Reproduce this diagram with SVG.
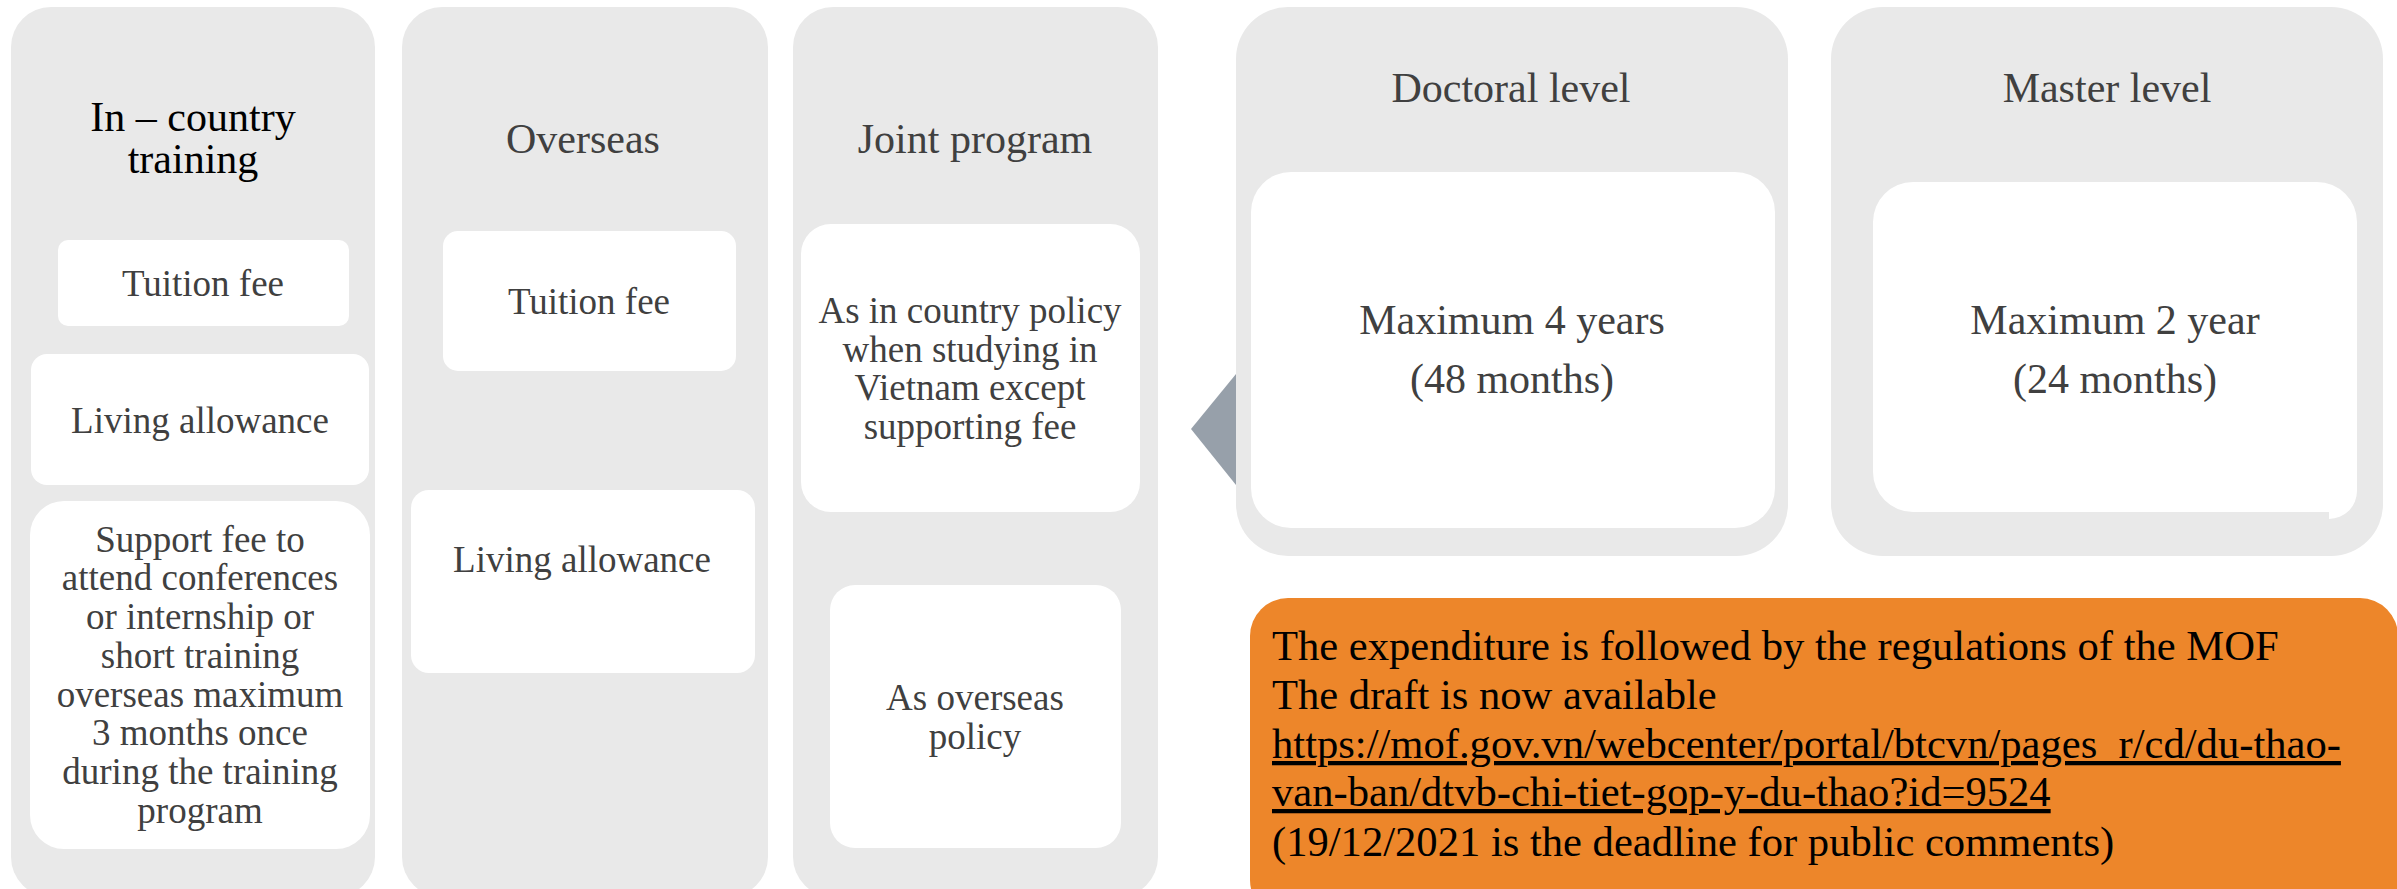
<svg xmlns="http://www.w3.org/2000/svg" width="2397" height="889" viewBox="0 0 2397 889">
<style>
.panel{fill:#E9E9E9}
.box{fill:#FFFFFF}
.t{font-family:"Liberation Serif","Times New Roman",serif;text-anchor:middle;fill:#404040}
.h{font-size:42px}
.s{font-size:37px}
.note{font-family:"Liberation Serif","Times New Roman",serif;font-size:42.6px;fill:#000000}
</style>
<rect width="2397" height="889" fill="#FFFFFF"/>
<g id="in-country">
<rect class="panel" x="11" y="7" width="364" height="890" rx="40"/>
<text class="t h" x="193" y="131" style="fill:#000000">In – country</text>
<text class="t h" x="193" y="173" style="fill:#000000">training</text>
<g id="ic-tuition"><rect class="box" x="58" y="240" width="291" height="86" rx="10"/>
<text class="t s" x="203" y="296">Tuition fee</text></g>
<g id="ic-living"><rect class="box" x="31" y="354" width="338" height="131" rx="16"/>
<text class="t s" x="200" y="433">Living allowance</text></g>
<g id="ic-support"><rect class="box" x="30" y="501" width="340" height="348" rx="34"/>
<text class="t s" x="200" y="552">Support fee to</text>
<text class="t s" x="200" y="590">attend conferences</text>
<text class="t s" x="200" y="629">or internship or</text>
<text class="t s" x="200" y="668">short training</text>
<text class="t s" x="200" y="707">overseas maximum</text>
<text class="t s" x="200" y="745">3 months once</text>
<text class="t s" x="200" y="784">during the training</text>
<text class="t s" x="200" y="823">program</text></g>
</g>
<g id="overseas">
<rect class="panel" x="402" y="7" width="366" height="890" rx="40"/>
<text class="t h" x="583" y="153">Overseas</text>
<g id="os-tuition"><rect class="box" x="443" y="231" width="293" height="140" rx="15"/>
<text class="t s" x="589" y="314">Tuition fee</text></g>
<g id="os-living"><rect class="box" x="411" y="490" width="344" height="183" rx="18"/>
<text class="t s" x="582" y="572">Living allowance</text></g>
</g>
<g id="joint">
<rect class="panel" x="793" y="7" width="365" height="890" rx="40"/>
<text class="t h" x="975" y="153">Joint program</text>
<g id="jp-incountry"><rect class="box" x="801" y="224" width="339" height="288" rx="30"/>
<text class="t s" x="970" y="323">As in country policy</text>
<text class="t s" x="970" y="362">when studying in</text>
<text class="t s" x="970" y="400">Vietnam except</text>
<text class="t s" x="970" y="439">supporting fee</text></g>
<g id="jp-overseas"><rect class="box" x="830" y="585" width="291" height="263" rx="25"/>
<text class="t s" x="975" y="710">As overseas</text>
<text class="t s" x="975" y="749">policy</text></g>
</g>
<g id="connectors">
<polygon points="1191,429 1236,374 1236,485" fill="#97A0AA"/>
</g>
<g id="doctoral">
<rect class="panel" x="1236" y="7" width="552" height="549" rx="52"/>
<text class="t h" x="1511" y="102">Doctoral level</text>
<rect class="box" x="1251" y="172" width="524" height="356" rx="40"/>
<text class="t h" x="1512" y="334">Maximum 4 years</text>
<text class="t h" x="1512" y="393">(48 months)</text>
</g>
<g id="master">
<rect class="panel" x="1831" y="7" width="552" height="549" rx="52"/>
<text class="t h" x="2107" y="102">Master level</text>
<path class="box" d="M1913,182 H2317 A40,40 0 0 1 2357,222 V491 A28,28 0 0 1 2329,519 V512 H1913 A40,40 0 0 1 1873,472 V222 A40,40 0 0 1 1913,182 Z"/>
<text class="t h" x="2115" y="334">Maximum 2 year</text>
<text class="t h" x="2115" y="393">(24 months)</text>
</g>
<g id="note">
<rect x="1250" y="598" width="1148" height="320" rx="38" fill="#ED862A"/>
<text class="note" x="1272" y="660">The expenditure is followed by the regulations of the MOF</text>
<text class="note" x="1272" y="709">The draft is now available</text>
<text class="note" x="1272" y="758" text-decoration="underline">https://mof.gov.vn/webcenter/portal/btcvn/pages_r/cd/du-thao-</text>
<text class="note" x="1272" y="806" text-decoration="underline">van-ban/dtvb-chi-tiet-gop-y-du-thao?id=9524</text>
<text class="note" x="1272" y="856">(19/12/2021 is the deadline for public comments)</text>
</g>
</svg>
